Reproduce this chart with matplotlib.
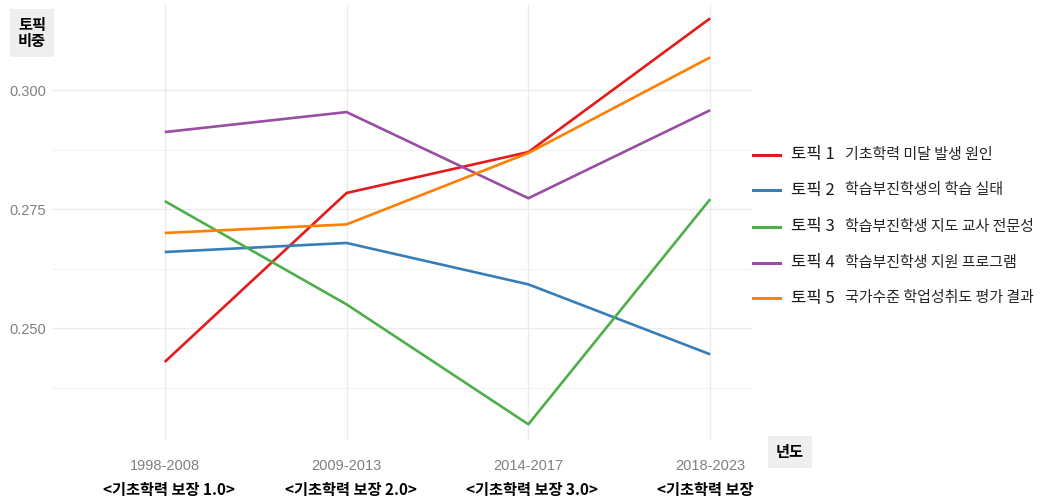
import matplotlib
matplotlib.use("Agg")
import matplotlib.pyplot as plt
from matplotlib.lines import Line2D
import numpy as np

# ---------------------------------------------------------------
# data
# ---------------------------------------------------------------
periods = ["1998-2008", "2009-2013", "2014-2017", "2018-2023"]
phases = ["<기초학력 보장 1.0>", "<기초학력 보장 2.0>", "<기초학력 보장 3.0>", "<기초학력 보장"]
topic_names = ["토픽 1", "토픽 2", "토픽 3", "토픽 4", "토픽 5"]
topic_desc = ["기초학력 미달 발생 원인", "학습부진학생의 학습 실태", "학습부진학생 지도 교사 전문성",
              "학습부진학생 지원 프로그램", "국가수준 학업성취도 평가 결과"]

topic1 = [0.2429, 0.2784, 0.2870, 0.3151]
topic2 = [0.2660, 0.2679, 0.2592, 0.2445]
topic3 = [0.2767, 0.2550, 0.2298, 0.2771]
topic4 = [0.2912, 0.2954, 0.2773, 0.2958]
topic5 = [0.2700, 0.2718, 0.2868, 0.3069]
series = [topic1, topic2, topic3, topic4, topic5]

colors = ["#E41A1C", "#377EB8", "#4DAF4A", "#984EA3", "#FF7F00"]

KR = ["Noto Sans CJK KR", "DejaVu Sans"]
NARROW = ["Liberation Sans Narrow", "Liberation Sans", "DejaVu Sans"]

W, H = 1045, 504
fig = plt.figure(figsize=(W / 100, H / 100), dpi=100)
ax = fig.add_axes([52 / W, 1 - 440 / H, 700 / W, 435 / H])

x = np.arange(1, len(periods) + 1)
for vals, c in zip(series, colors):
    ax.plot(x, vals, color=c, lw=1.9, solid_capstyle="butt", zorder=3)

ax.set_xlim(0.38, 4.23)
ax.set_ylim(0.2265, 0.3179)
ax.set_xticks(x)
ax.set_xticklabels(periods)
ax.set_yticks([0.250, 0.275, 0.300])
ax.set_yticklabels(["0.250", "0.275", "0.300"])
ax.set_yticks([0.2375, 0.2625, 0.2875], minor=True)

# theme_minimal look
for s in ax.spines.values():
    s.set_visible(False)
ax.tick_params(axis="both", which="both", length=0, colors="#808080", labelsize=10.5)
ax.tick_params(axis="x", pad=14)
ax.tick_params(axis="y", pad=4)
for lab in ax.get_xticklabels() + ax.get_yticklabels():
    lab.set_family(NARROW)
ax.grid(True, which="major", color="#ebebeb", lw=1.0)
ax.grid(True, which="minor", axis="y", color="#f2f2f2", lw=0.8)
ax.set_axisbelow(True)

# axis titles in grey boxes
fig.text(32 / W, 1 - 33 / H, "토픽\n비중", family=KR, fontweight="bold", fontsize=11,
         ha="center", va="center", linespacing=0.95,
         bbox=dict(boxstyle="square,pad=0.55", fc="#efefef", ec="none"))
fig.text(790 / W, 1 - 452 / H, "년도", family=KR, fontweight="bold", fontsize=11,
         ha="center", va="center",
         bbox=dict(boxstyle="square,pad=0.55", fc="#efefef", ec="none"))

# phase annotations under the periods
for i, ph in enumerate(phases):
    if i < len(phases) - 1:
        ax.annotate(ph, xy=(x[i], 0), xycoords=("data", "axes fraction"),
                    xytext=(4, -50), textcoords="offset pixels",
                    ha="center", va="center", family=KR, fontweight="bold", fontsize=11)
    else:
        ax.annotate(ph, xy=(x[i], 0), xycoords=("data", "axes fraction"),
                    xytext=(-53, -50), textcoords="offset pixels",
                    ha="left", va="center", family=KR, fontweight="bold", fontsize=11)

# legend, drawn by hand to mix two text styles
ys = [155, 190, 227, 263, 298]
for name, desc, c, yy in zip(topic_names, topic_desc, colors, ys):
    yf = 1 - yy / H
    fig.add_artist(Line2D([753 / W, 780 / W], [yf, yf], color=c, lw=2.2, transform=fig.transFigure))
    fig.text(791 / W, yf, name, family=KR, fontsize=12, ha="left", va="center", color="#1a1a1a")
    fig.text(845 / W, yf, desc, family=KR, fontsize=10.8, ha="left", va="center", color="#262626")

fig.savefig("out.png", dpi=100)
